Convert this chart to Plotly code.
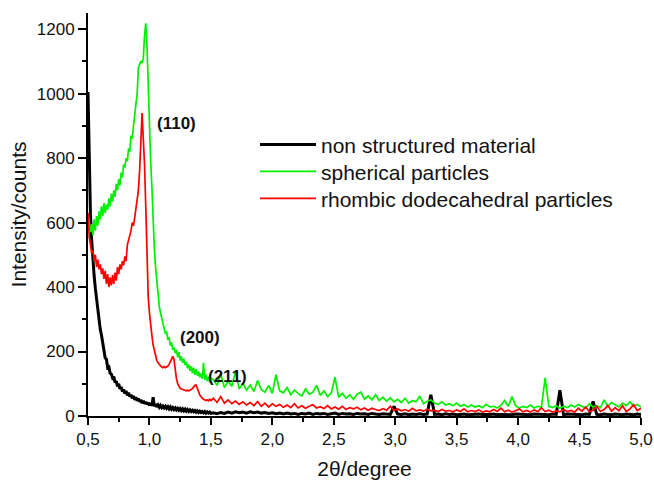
import plotly.graph_objects as go

# ---- data ----
x_low = [0.50, 0.51, 0.52, 0.53, 0.54, 0.55, 0.56, 0.57, 0.58, 0.59,
         0.60, 0.61, 0.62, 0.63, 0.64, 0.65, 0.66, 0.67, 0.68, 0.69,
         0.70, 0.71, 0.72, 0.73, 0.74, 0.75, 0.76, 0.77, 0.78, 0.79,
         0.80, 0.81, 0.82, 0.83, 0.84, 0.85, 0.86, 0.87, 0.88, 0.89,
         0.90, 0.91, 0.92, 0.93, 0.94, 0.95, 0.96, 0.97, 0.98, 0.99,
         1.00, 1.01, 1.02, 1.03, 1.04, 1.05, 1.06, 1.07, 1.08, 1.09,
         1.10, 1.11, 1.12, 1.13, 1.14, 1.15, 1.16, 1.17, 1.18, 1.19,
         1.20, 1.21, 1.22, 1.23, 1.24, 1.25, 1.26, 1.27, 1.28, 1.29,
         1.30, 1.31, 1.32, 1.33, 1.34, 1.35, 1.36, 1.37, 1.38, 1.39,
         1.40, 1.41, 1.42, 1.43, 1.44, 1.45, 1.46, 1.47, 1.48, 1.49,
         1.50]
x_high = [1.52, 1.55, 1.58, 1.61, 1.64, 1.67, 1.70, 1.73, 1.76, 1.79,
          1.82, 1.85, 1.88, 1.91, 1.94, 1.97, 2.00, 2.03, 2.06, 2.09,
          2.12, 2.15, 2.18, 2.21, 2.24, 2.27, 2.30, 2.33, 2.36, 2.39,
          2.42, 2.45, 2.48, 2.51, 2.54, 2.57, 2.60, 2.63, 2.66, 2.69,
          2.72, 2.75, 2.78, 2.81, 2.84, 2.87, 2.90, 2.93, 2.96, 2.99,
          3.02, 3.05, 3.08, 3.11, 3.14, 3.17, 3.20, 3.23, 3.26, 3.29,
          3.32, 3.35, 3.38, 3.41, 3.44, 3.47, 3.50, 3.53, 3.56, 3.59,
          3.62, 3.65, 3.68, 3.71, 3.74, 3.77, 3.80, 3.83, 3.86, 3.89,
          3.92, 3.95, 3.98, 4.01, 4.04, 4.07, 4.10, 4.13, 4.16, 4.19,
          4.22, 4.25, 4.28, 4.31, 4.34, 4.37, 4.40, 4.43, 4.46, 4.49,
          4.52, 4.55, 4.58, 4.61, 4.64, 4.67, 4.70, 4.73, 4.76, 4.79,
          4.82, 4.85, 4.88, 4.91, 4.94, 4.97, 5.00]

black_low = [1005, 770, 625, 545, 470, 435, 395, 362, 322, 300,
             268, 250, 222, 205, 180, 176, 150, 152, 133, 130,
             118, 122, 104, 108, 92, 100, 84, 90, 76, 82,
             70, 78, 64, 72, 60, 66, 55, 62, 50, 58,
             47, 54, 44, 50, 40, 47, 38, 44, 36, 42,
             33, 40, 32, 58, 30, 37, 28, 34, 27, 33,
             26, 31, 25, 30, 24, 29, 22, 28, 21, 26,
             20, 25, 19, 24, 18, 23, 17, 22, 16, 21,
             15, 20, 14, 19, 14, 18, 13, 17, 12, 16,
             11, 15, 11, 14, 10, 14, 9, 13, 9, 12,
             8]
black_high = [10, 7, 11, 8, 12, 9, 13, 10, 12, 9,
              13, 10, 12, 9, 11, 8, 10, 7, 9, 6,
              9, 6, 8, 5, 8, 6, 9, 5, 8, 6,
              8, 5, 7, 9, 5, 8, 6, 7, 5, 8,
              6, 7, 5, 8, 6, 5, 7, 6, 5, 30,
              6, 5, 7, 4, 6, 5, 7, 5, 6, 66,
              5, 6, 4, 7, 5, 6, 4, 5, 6, 4,
              5, 4, 6, 5, 4, 5, 6, 4, 5, 4,
              5, 4, 6, 5, 4, 5, 4, 6, 5, 4,
              5, 4, 6, 5, 80, 4, 6, 5, 4, 5,
              4, 6, 5, 45, 5, 4, 6, 5, 4, 6,
              5, 4, 6, 5, 4, 6, 5]

green_low = [630, 600, 570, 595, 560, 610, 575, 620, 590, 635,
             610, 650, 620, 660, 630, 655, 640, 675, 650, 690,
             665, 700, 680, 720, 700, 735, 715, 755, 740, 780,
             770, 800, 790, 830, 820, 870, 860, 900, 930, 960,
             1000, 1080, 1090, 1100, 1095, 1110, 1180, 1218, 1150, 1020,
             880, 790, 710, 600, 520, 460, 412, 380, 340, 320,
             305, 282, 275, 255, 262, 236, 245, 218, 228, 205,
             212, 195, 205, 182, 198, 172, 185, 165, 178, 158,
             168, 148, 160, 140, 155, 132, 150, 128, 145, 125,
             138, 120, 132, 115, 165, 112, 128, 108, 122, 105,
             118]
green_high = [112, 95, 130, 88, 108, 92, 138, 84, 102, 80,
              96, 76, 110, 82, 74, 95, 70, 128, 78, 72,
              88, 66, 80, 70, 62, 84, 68, 74, 95, 64,
              78, 60, 72, 120, 58, 70, 55, 66, 52, 68,
              74, 52, 62, 50, 66, 48, 58, 46, 56, 44,
              52, 42, 55, 40, 48, 44, 62, 38, 46, 50,
              40, 36, 44, 34, 38, 32, 40, 30, 36, 28,
              34, 28, 32, 26, 36, 28, 30, 25, 33, 48,
              30, 60, 32, 24, 30, 26, 34, 25, 30, 28,
              118, 30, 26, 32, 24, 30, 26, 34, 28, 36,
              30, 24, 38, 28, 32, 26, 50, 30, 42, 34,
              28, 40, 32, 44, 30, 36, 28]

red_low = [630, 555, 530, 505, 515, 480, 500, 462, 485, 455,
           470, 440, 458, 425, 450, 410, 440, 400, 430, 405,
           438, 410, 445, 420, 462, 440, 470, 455, 480, 468,
           495, 480, 530, 545, 560, 575, 600, 590, 615, 640,
           670, 700, 760, 830, 940, 860, 780, 650, 480, 370,
           320, 275, 250, 220, 200, 185, 172, 165, 160, 155,
           152, 150, 153, 150, 152, 155, 160, 168, 178, 185,
           175, 140, 115, 100, 92, 86, 84, 82, 80, 80,
           78, 80, 78, 80, 82, 85, 90, 95, 96, 88,
           75, 65, 58, 55, 52, 50, 48, 50, 47, 52,
           48]
red_high = [55, 42, 60, 40, 50, 38, 46, 36, 44, 34,
            42, 32, 45, 30, 40, 28, 38, 30, 36, 27,
            34, 26, 38, 25, 32, 24, 30, 35, 25, 29,
            23, 32, 22, 28, 21, 30, 20, 26, 22, 27,
            19, 25, 18, 24, 20, 17, 23, 18, 30, 17,
            22, 16, 20, 15, 24, 16, 19, 15, 21, 16,
            18, 14, 20, 15, 17, 13, 19, 14, 22, 13,
            17, 14, 19, 12, 16, 13, 20, 14, 24, 13,
            18, 12, 16, 22, 13, 17, 12, 19, 14, 25,
            14, 18, 12, 16, 13, 20, 14, 17, 12, 24,
            15, 28, 13, 18, 30, 14, 20, 33, 15, 26,
            16, 32, 14, 22, 35, 17, 24]

series_names = ["non structured material", "spherical particles",
                "rhombic dodecahedral particles"]
peak_labels = ["(110)", "(200)", "(211)"]
peak_pos = [(1.224, 908), (1.411, 245), (1.639, 121)]

x_all = x_low + x_high
FONT = "Arial, Liberation Sans, sans-serif"

fig = go.Figure()
fig.add_trace(go.Scatter(x=x_all, y=black_low + black_high, mode="lines",
                         name=series_names[0], legend="legend",
                         line=dict(color="#000000", width=3)))
fig.add_trace(go.Scatter(x=x_all, y=green_low + green_high, mode="lines",
                         name=series_names[1], legend="legend2",
                         line=dict(color="#00f000", width=1.7)))
fig.add_trace(go.Scatter(x=x_all, y=red_low + red_high, mode="lines",
                         name=series_names[2], legend="legend3",
                         line=dict(color="#ff0000", width=1.7)))

for lab, (px, py) in zip(peak_labels, peak_pos):
    fig.add_annotation(x=px, y=py, text="<b>" + lab + "</b>", showarrow=False,
                       font=dict(family=FONT, size=17, color="#111111"),
                       xanchor="center", yanchor="middle")

def leg(ypaper):
    return dict(x=0.302, y=ypaper, xanchor="left", yanchor="middle",
                font=dict(family=FONT, size=21, color="#111111"),
                bgcolor="rgba(0,0,0,0)", itemwidth=56)

fig.update_layout(
    width=654, height=484,
    margin=dict(l=88, r=13, t=13, b=68, autoexpand=False),
    paper_bgcolor="white", plot_bgcolor="white",
    separators=",.",
    font=dict(family=FONT, color="#111111"),
    showlegend=True,
    legend=leg(0.673), legend2=leg(0.606), legend3=leg(0.539),
    xaxis=dict(range=[0.5, 5.0], tick0=0.5, dtick=0.5, tickformat=".1f",
               automargin=False,
               showline=True, linecolor="black", linewidth=2,
               ticks="outside", ticklen=7, tickwidth=2, tickcolor="black",
               minor=dict(dtick=0.25, tick0=0.5, ticks="outside", ticklen=4,
                          tickwidth=2, tickcolor="black"),
               showgrid=False, zeroline=False,
               tickfont=dict(family=FONT, size=17, color="#111111"),
               title=dict(text="2θ/degree", font=dict(family=FONT, size=21),
                          standoff=13)),
    yaxis=dict(range=[0, 1250], tick0=0, dtick=200,
               automargin=False,
               showline=True, linecolor="black", linewidth=2,
               ticks="outside", ticklen=8, tickwidth=2, tickcolor="black",
               minor=dict(dtick=100, tick0=0, ticks="outside", ticklen=4,
                          tickwidth=2, tickcolor="black"),
               showgrid=False, zeroline=False,
               tickfont=dict(family=FONT, size=17, color="#111111"),
               title=dict(text="Intensity/counts", font=dict(family=FONT, size=21),
                          standoff=4)),
)

fig.write_html("out.html", config={"displayModeBar": False},
               post_script="document.body.style.margin='0';document.body.style.padding='0';")
